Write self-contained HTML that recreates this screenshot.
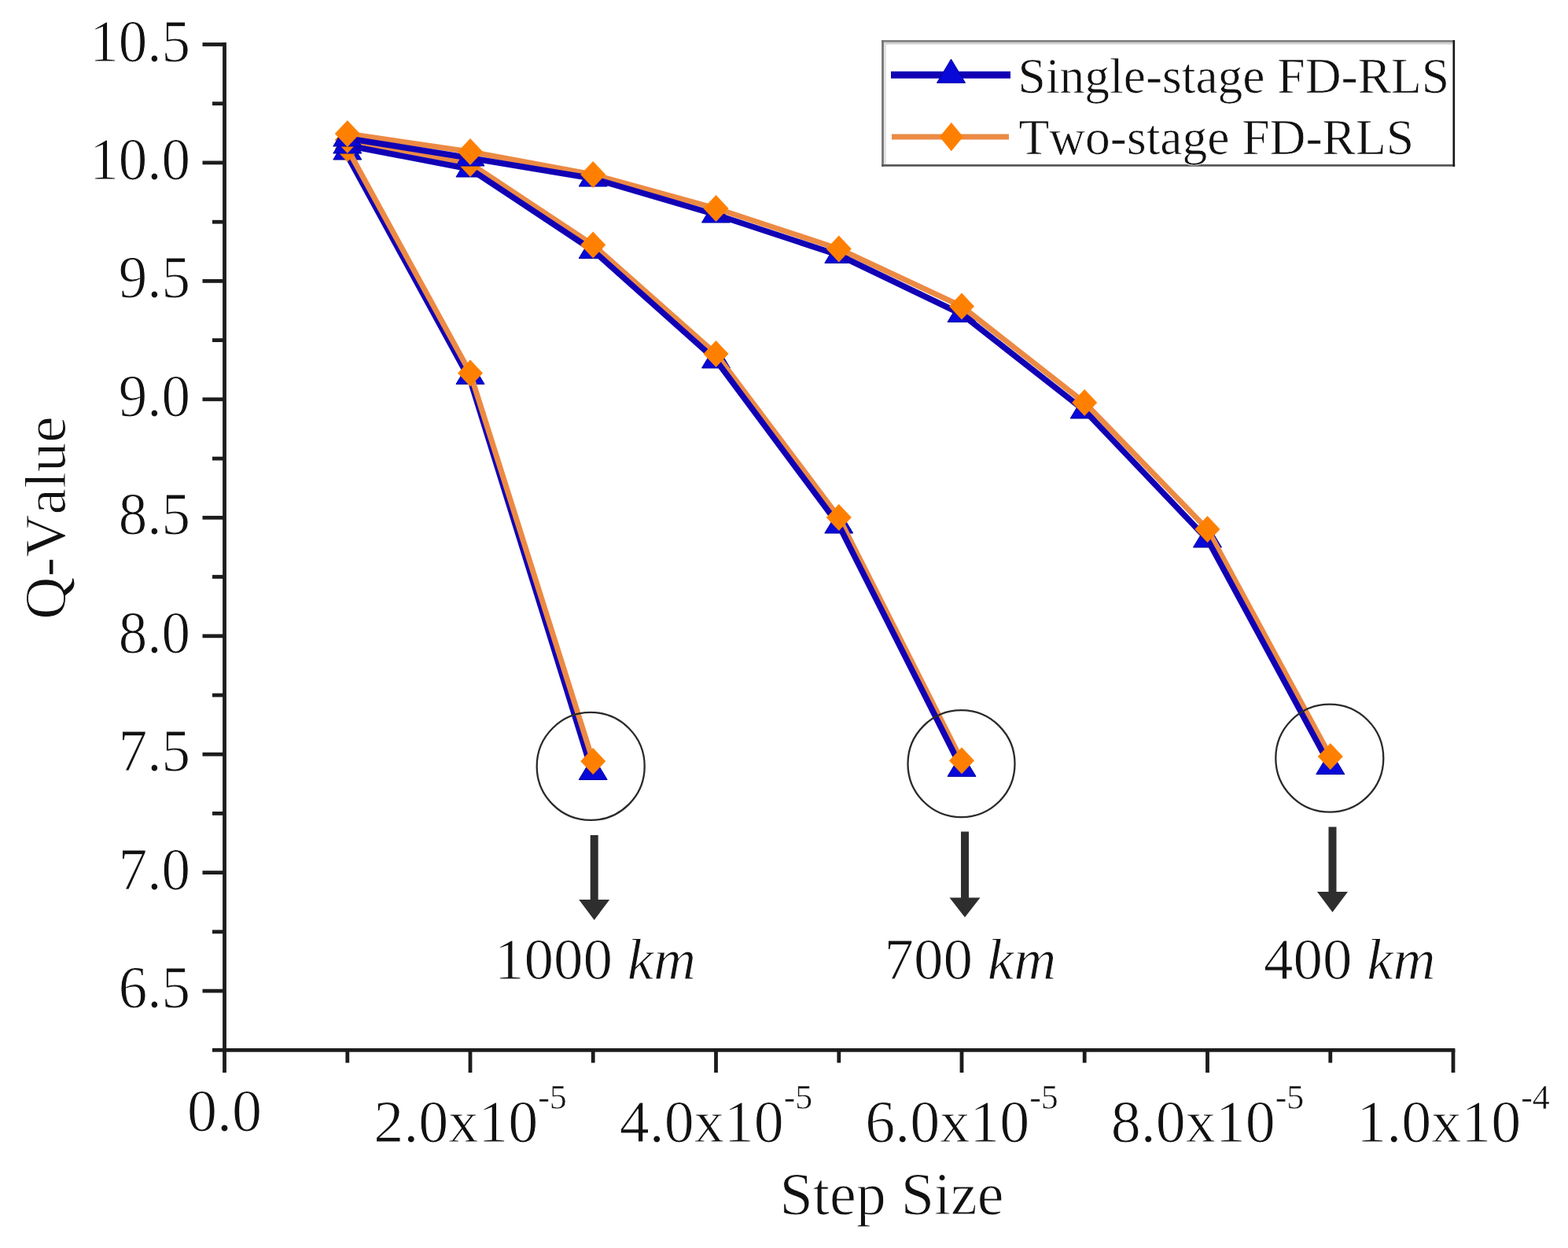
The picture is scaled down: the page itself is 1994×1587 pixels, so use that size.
<!DOCTYPE html>
<html><head><meta charset="utf-8"><title>Q-Value vs Step Size</title>
<style>
html,body{margin:0;padding:0;background:#fff;}
svg{display:block;}
text{font-family:"Liberation Serif","Times New Roman",serif;fill:#111;font-kerning:none;font-feature-settings:"kern" 0;stroke:#fff;stroke-width:1.0px;paint-order:fill stroke;}
</style></head><body>
<svg width="1994" height="1587" viewBox="0 0 1994 1587">
<rect width="1994" height="1587" fill="#fff"/>

<g stroke="#1c1c1c" stroke-width="4.8" fill="none" stroke-linecap="butt">
<line x1="285.5" y1="54.1" x2="285.5" y2="1337.7"/>
<line x1="283.1" y1="1335.3" x2="1850.4" y2="1335.3"/>
<line x1="257.5" y1="56.5" x2="285.5" y2="56.5"/>
<line x1="270" y1="131.7" x2="285.5" y2="131.7"/>
<line x1="257.5" y1="206.9" x2="285.5" y2="206.9"/>
<line x1="270" y1="282.2" x2="285.5" y2="282.2"/>
<line x1="257.5" y1="357.4" x2="285.5" y2="357.4"/>
<line x1="270" y1="432.6" x2="285.5" y2="432.6"/>
<line x1="257.5" y1="507.8" x2="285.5" y2="507.8"/>
<line x1="270" y1="583.1" x2="285.5" y2="583.1"/>
<line x1="257.5" y1="658.3" x2="285.5" y2="658.3"/>
<line x1="270" y1="733.5" x2="285.5" y2="733.5"/>
<line x1="257.5" y1="808.8" x2="285.5" y2="808.8"/>
<line x1="270" y1="884.0" x2="285.5" y2="884.0"/>
<line x1="257.5" y1="959.2" x2="285.5" y2="959.2"/>
<line x1="270" y1="1034.4" x2="285.5" y2="1034.4"/>
<line x1="257.5" y1="1109.6" x2="285.5" y2="1109.6"/>
<line x1="270" y1="1184.9" x2="285.5" y2="1184.9"/>
<line x1="257.5" y1="1260.1" x2="285.5" y2="1260.1"/>
<line x1="270" y1="1335.3" x2="285.5" y2="1335.3"/>
<line x1="285.5" y1="1335.3" x2="285.5" y2="1364"/>
<line x1="441.8" y1="1335.3" x2="441.8" y2="1351.5"/>
<line x1="598.0" y1="1335.3" x2="598.0" y2="1364"/>
<line x1="754.2" y1="1335.3" x2="754.2" y2="1351.5"/>
<line x1="910.5" y1="1335.3" x2="910.5" y2="1364"/>
<line x1="1066.8" y1="1335.3" x2="1066.8" y2="1351.5"/>
<line x1="1223.0" y1="1335.3" x2="1223.0" y2="1364"/>
<line x1="1379.2" y1="1335.3" x2="1379.2" y2="1351.5"/>
<line x1="1535.5" y1="1335.3" x2="1535.5" y2="1364"/>
<line x1="1691.8" y1="1335.3" x2="1691.8" y2="1351.5"/>
<line x1="1848.0" y1="1335.3" x2="1848.0" y2="1364"/>
</g>
<g font-size="76" text-anchor="end">
<text transform="translate(242,77.5) scale(0.96,1)">10.5</text>
<text transform="translate(242,227.9) scale(0.96,1)">10.0</text>
<text transform="translate(242,378.4) scale(0.96,1)">9.5</text>
<text transform="translate(242,528.8) scale(0.96,1)">9.0</text>
<text transform="translate(242,679.3) scale(0.96,1)">8.5</text>
<text transform="translate(242,829.8) scale(0.96,1)">8.0</text>
<text transform="translate(242,980.2) scale(0.96,1)">7.5</text>
<text transform="translate(242,1130.6) scale(0.96,1)">7.0</text>
<text transform="translate(242,1281.1) scale(0.96,1)">6.5</text>
</g>
<text x="285.5" y="1437.5" font-size="76" text-anchor="middle">0.0</text>
<text x="598.0" y="1452" font-size="76" text-anchor="middle">2.0x10<tspan font-size="44" dy="-42" style="stroke-width:0.5px">-5</tspan></text>
<text x="910.5" y="1452" font-size="76" text-anchor="middle">4.0x10<tspan font-size="44" dy="-42" style="stroke-width:0.5px">-5</tspan></text>
<text x="1223.0" y="1452" font-size="76" text-anchor="middle">6.0x10<tspan font-size="44" dy="-42" style="stroke-width:0.5px">-5</tspan></text>
<text x="1535.5" y="1452" font-size="76" text-anchor="middle">8.0x10<tspan font-size="44" dy="-42" style="stroke-width:0.5px">-5</tspan></text>
<text x="1848.0" y="1452" font-size="76" text-anchor="middle">1.0x10<tspan font-size="44" dy="-42" style="stroke-width:0.5px">-4</tspan></text>
<text x="991.6" y="1544" font-size="76">Step Size</text>
<text transform="translate(83,787.7) rotate(-90)" font-size="75">Q-Value</text>
<polygon points="441.8,173.0 423.8,203.0 459.8,203.0" fill="#0808d8" stroke="#0000a0" stroke-width="1"/>
<polygon points="598.0,458.4 580.0,488.4 616.0,488.4" fill="#0808d8" stroke="#0000a0" stroke-width="1"/>
<polygon points="754.2,961.5 736.2,991.5 772.2,991.5" fill="#0808d8" stroke="#0000a0" stroke-width="1"/>
<polyline points="441.8,198.0 598.0,483.4 754.2,985.0" fill="none" stroke="#1200b4" stroke-width="7.5" stroke-linejoin="round"/>
<polyline points="441.8,189.0 598.0,474.4 754.2,968.0" fill="none" stroke="#ec8a44" stroke-width="7" stroke-linejoin="round"/>
<polygon points="441.8,172.0 457.8,189.0 441.8,206.0 425.8,189.0" fill="#ff8000"/>
<polygon points="598.0,457.4 614.0,474.4 598.0,491.4 582.0,474.4" fill="#ff8000"/>
<polygon points="754.2,951.0 770.2,968.0 754.2,985.0 738.2,968.0" fill="#ff8000"/>
<polygon points="441.8,165.0 423.8,195.0 459.8,195.0" fill="#0808d8" stroke="#0000a0" stroke-width="1"/>
<polygon points="598.0,195.0 580.0,225.0 616.0,225.0" fill="#0808d8" stroke="#0000a0" stroke-width="1"/>
<polygon points="754.2,298.5 736.2,328.5 772.2,328.5" fill="#0808d8" stroke="#0000a0" stroke-width="1"/>
<polygon points="910.5,438.0 892.5,468.0 928.5,468.0" fill="#0808d8" stroke="#0000a0" stroke-width="1"/>
<polygon points="1066.8,648.0 1048.8,678.0 1084.8,678.0" fill="#0808d8" stroke="#0000a0" stroke-width="1"/>
<polygon points="1223.0,957.3 1205.0,987.3 1241.0,987.3" fill="#0808d8" stroke="#0000a0" stroke-width="1"/>
<polyline points="441.8,178.0 598.0,208.0 754.2,311.5 910.5,450.0 1066.8,658.0 1223.0,967.3" fill="none" stroke="#ec8a44" stroke-width="7" stroke-linejoin="round"/>
<polyline points="441.8,185.0 598.0,215.0 754.2,318.5 910.5,458.0 1066.8,668.0 1223.0,977.3" fill="none" stroke="#1200b4" stroke-width="7.5" stroke-linejoin="round"/>
<polygon points="441.8,161.0 457.8,178.0 441.8,195.0 425.8,178.0" fill="#ff8000"/>
<polygon points="598.0,191.0 614.0,208.0 598.0,225.0 582.0,208.0" fill="#ff8000"/>
<polygon points="754.2,294.5 770.2,311.5 754.2,328.5 738.2,311.5" fill="#ff8000"/>
<polygon points="910.5,433.0 926.5,450.0 910.5,467.0 894.5,450.0" fill="#ff8000"/>
<polygon points="1066.8,641.0 1082.8,658.0 1066.8,675.0 1050.8,658.0" fill="#ff8000"/>
<polygon points="1223.0,950.3 1239.0,967.3 1223.0,984.3 1207.0,967.3" fill="#ff8000"/>
<polygon points="441.8,156.0 423.8,186.0 459.8,186.0" fill="#0808d8" stroke="#0000a0" stroke-width="1"/>
<polygon points="598.0,181.0 580.0,211.0 616.0,211.0" fill="#0808d8" stroke="#0000a0" stroke-width="1"/>
<polygon points="754.2,207.0 736.2,237.0 772.2,237.0" fill="#0808d8" stroke="#0000a0" stroke-width="1"/>
<polygon points="910.5,253.0 892.5,283.0 928.5,283.0" fill="#0808d8" stroke="#0000a0" stroke-width="1"/>
<polygon points="1066.8,304.5 1048.8,334.5 1084.8,334.5" fill="#0808d8" stroke="#0000a0" stroke-width="1"/>
<polygon points="1223.0,379.5 1205.0,409.5 1241.0,409.5" fill="#0808d8" stroke="#0000a0" stroke-width="1"/>
<polygon points="1379.2,502.0 1361.2,532.0 1397.2,532.0" fill="#0808d8" stroke="#0000a0" stroke-width="1"/>
<polygon points="1535.5,666.0 1517.5,696.0 1553.5,696.0" fill="#0808d8" stroke="#0000a0" stroke-width="1"/>
<polygon points="1691.8,954.5 1673.8,984.5 1709.8,984.5" fill="#0808d8" stroke="#0000a0" stroke-width="1"/>
<polyline points="441.8,170.0 598.0,193.0 754.2,222.0 910.5,265.0 1066.8,316.5 1223.0,389.5 1379.2,512.0 1535.5,673.0 1691.8,962.0" fill="none" stroke="#ec8a44" stroke-width="7" stroke-linejoin="round"/>
<polyline points="441.8,176.0 598.0,201.0 754.2,227.0 910.5,273.0 1066.8,324.5 1223.0,399.5 1379.2,522.0 1535.5,686.0 1691.8,974.5" fill="none" stroke="#1200b4" stroke-width="7.5" stroke-linejoin="round"/>
<polygon points="441.8,153.0 457.8,170.0 441.8,187.0 425.8,170.0" fill="#ff8000"/>
<polygon points="598.0,176.0 614.0,193.0 598.0,210.0 582.0,193.0" fill="#ff8000"/>
<polygon points="754.2,205.0 770.2,222.0 754.2,239.0 738.2,222.0" fill="#ff8000"/>
<polygon points="910.5,248.0 926.5,265.0 910.5,282.0 894.5,265.0" fill="#ff8000"/>
<polygon points="1066.8,299.5 1082.8,316.5 1066.8,333.5 1050.8,316.5" fill="#ff8000"/>
<polygon points="1223.0,372.5 1239.0,389.5 1223.0,406.5 1207.0,389.5" fill="#ff8000"/>
<polygon points="1379.2,495.0 1395.2,512.0 1379.2,529.0 1363.2,512.0" fill="#ff8000"/>
<polygon points="1535.5,656.0 1551.5,673.0 1535.5,690.0 1519.5,673.0" fill="#ff8000"/>
<polygon points="1691.8,945.0 1707.8,962.0 1691.8,979.0 1675.8,962.0" fill="#ff8000"/>
<g fill="none" stroke="#2a2a2a" stroke-width="2.3">
<circle cx="751.2" cy="974.4" r="68.5"/>
<circle cx="1222.5" cy="971.2" r="68"/>
<circle cx="1690.8" cy="964.2" r="68.5"/>
</g>
<rect x="750.7" y="1062" width="10" height="83" fill="#2e2e2e"/><polygon points="736.2,1144 775.2,1144 755.7,1170" fill="#2e2e2e"/>
<rect x="1222.0" y="1057.5" width="10" height="85.0" fill="#2e2e2e"/><polygon points="1207.5,1141.5 1246.5,1141.5 1227.0,1166.5" fill="#2e2e2e"/>
<rect x="1689.5" y="1051.5" width="10" height="83.5" fill="#2e2e2e"/><polygon points="1675.0,1134 1714.0,1134 1694.5,1160" fill="#2e2e2e"/>
<text x="629" y="1245" font-size="75">1000 <tspan font-style="italic">km</tspan></text>
<text x="1124.6" y="1245" font-size="75">700 <tspan font-style="italic">km</tspan></text>
<text x="1606.9" y="1245" font-size="75">400 <tspan font-style="italic">km</tspan></text>
<g fill="none"><line x1="1124" y1="55.3" x2="1847" y2="55.3" stroke="#d2d2d2" stroke-width="2.4"/><line x1="1125.5" y1="54" x2="1125.5" y2="209" stroke="#dcdcdc" stroke-width="2.4"/><line x1="1121" y1="52.4" x2="1850" y2="52.4" stroke="#808080" stroke-width="2.6"/><line x1="1122.5" y1="51.1" x2="1122.5" y2="211.8" stroke="#747474" stroke-width="2.8"/><line x1="1121" y1="210.4" x2="1850.2" y2="210.4" stroke="#585858" stroke-width="2.8"/><line x1="1848.8" y1="51.1" x2="1848.8" y2="211.8" stroke="#181818" stroke-width="2.7"/></g>
<line x1="1133" y1="95.3" x2="1285" y2="95.3" stroke="#1200b4" stroke-width="9" />
<polygon points="1209.5,75.3 1191.5,105.3 1227.5,105.3" fill="#0808d8" stroke="#0000a0" stroke-width="1"/>
<line x1="1134" y1="174" x2="1283" y2="174" stroke="#ec8a44" stroke-width="7"/>
<polygon points="1209.8,155.8 1224.8,174.0 1209.8,192.2 1194.8,174.0" fill="#ff8000"/>
<text x="1294.6" y="118.3" font-size="63.5" style="stroke-width:0.7px">Single-stage FD-RLS</text>
<text x="1295.4" y="195.8" font-size="63.5" style="stroke-width:0.7px">Two-stage FD-RLS</text>
</svg></body></html>
